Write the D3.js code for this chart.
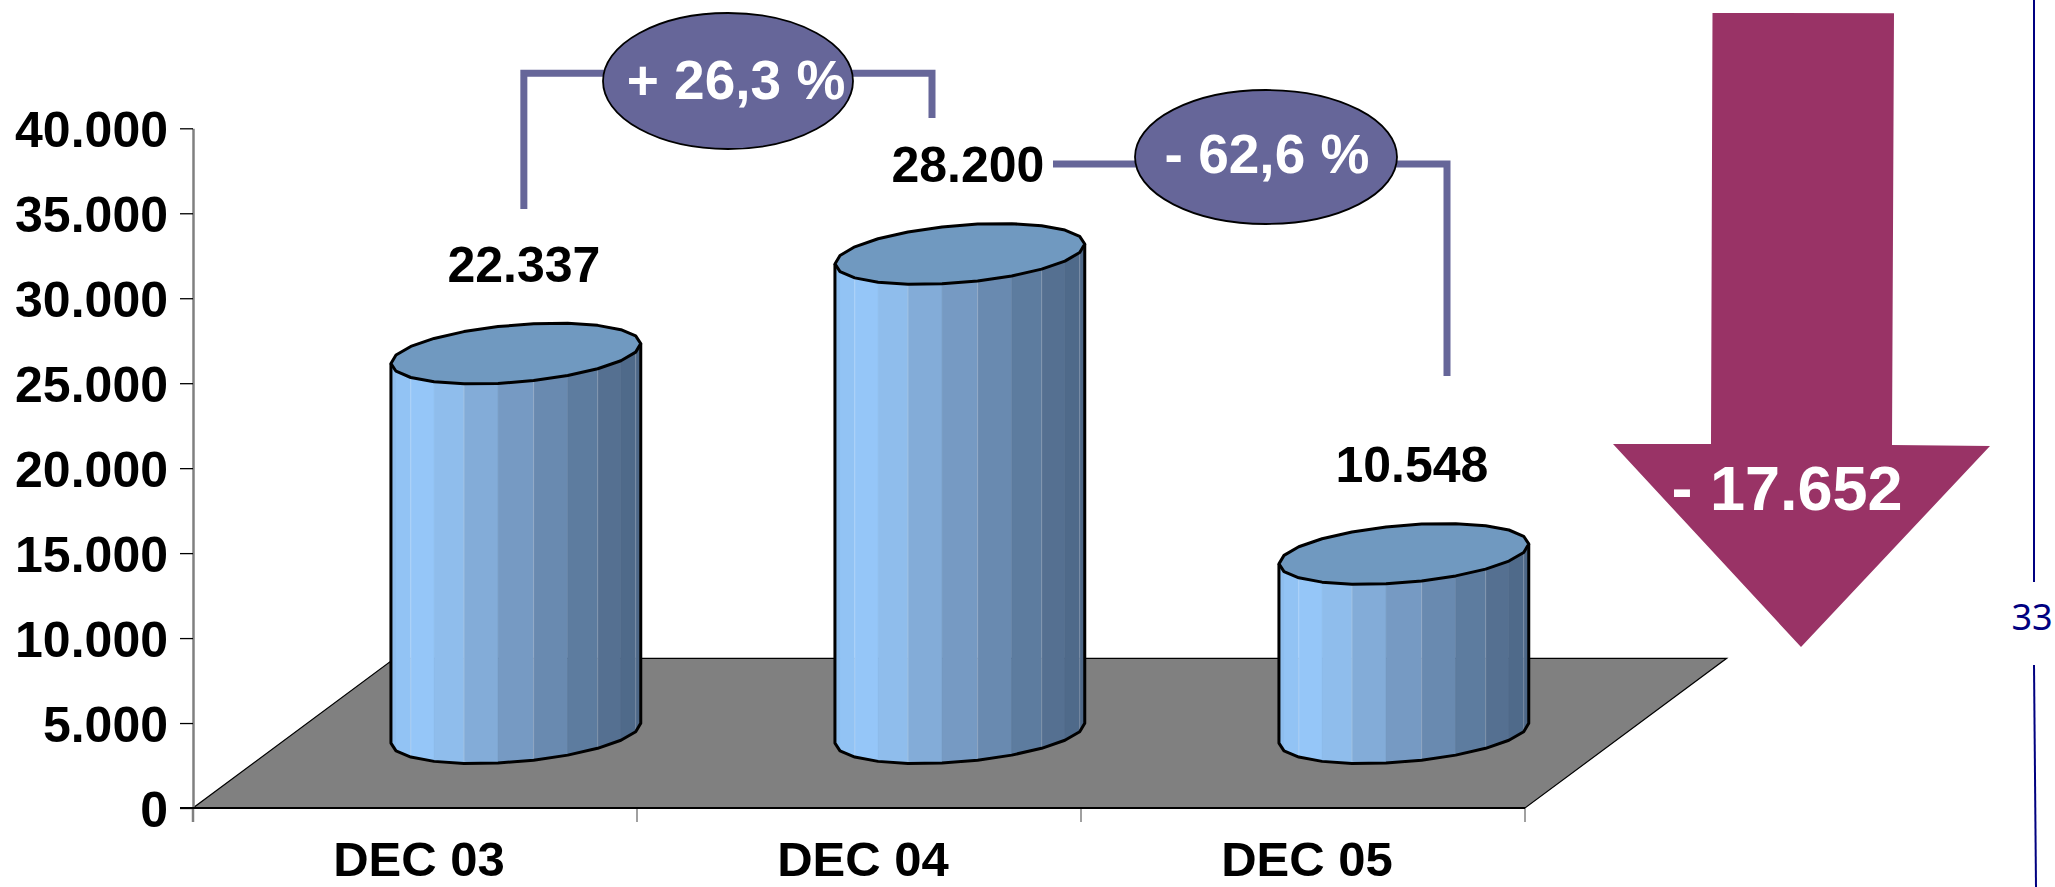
<!DOCTYPE html>
<html><head><meta charset="utf-8">
<script src="https://cdn.jsdelivr.net/npm/d3@7"></script>
<style>html,body{margin:0;padding:0;background:#fff;overflow:hidden}</style>
</head><body>
<svg id="chart" width="2055" height="887"></svg>
<script>
// ---- data ----
const categories = ["DEC 03", "DEC 04", "DEC 05"];
const values = [22337, 28200, 10548];
const yTickValues = [0, 5000, 10000, 15000, 20000, 25000, 30000, 35000, 40000];
const changeLabels = ["+ 26,3 %", "- 62,6 %"];
const totalChangeLabel = "- 17.652";
const pageNumber = "33";

// ---- setup ----
const svg = d3.select("#chart");
const FONT = "'Liberation Sans', Arial, Helvetica, sans-serif";
const loc = d3.formatLocale({decimal: ",", thousands: ".", grouping: [3], currency: ["", ""]});
const fmtInt = loc.format(",d");

const x = d3.scaleBand().domain(categories).range([193, 1525]).padding(0);
const y = d3.scaleLinear().domain([0, 40000]).range([808, 128.3]);
const depth = {x: 201.7, y: -149.7};
const x0 = x.range()[0], x1 = x.range()[1], yb = y(0);
const bw = x.bandwidth();

// ---- floor ----
svg.append("path")
  .attr("d", `M${x0},${yb}L${x1},${yb}L${x1 + depth.x},${yb + depth.y}L${x0 + depth.x},${yb + depth.y}Z`)
  .attr("fill", "#808080").attr("stroke", "#000").attr("stroke-width", 1.2);

// ---- y axis ----
const yAxis = d3.axisLeft(y).tickValues(yTickValues).tickFormat(fmtInt)
  .tickSize(13).tickSizeOuter(0).tickPadding(12);
const gy = svg.append("g").attr("transform", `translate(${x0},0)`).call(yAxis);
gy.select(".domain").attr("stroke", "#808080").attr("stroke-width", 2.5);
gy.selectAll(".tick line").attr("stroke", "#000").attr("stroke-width", 1.3);
gy.selectAll(".tick text").attr("font-family", FONT).attr("font-weight", "bold")
  .attr("font-size", 50).attr("fill", "#000").attr("dy", "0.36em");
svg.append("line").attr("x1", x0).attr("x2", x0).attr("y1", yb).attr("y2", yb + 14)
  .attr("stroke", "#808080").attr("stroke-width", 2.5);

// ---- x axis ----
const edges = categories.map(c => x(c)).concat([x1]);
svg.selectAll(".xtick").data(edges).join("line").attr("class", "xtick")
  .attr("x1", d => d).attr("x2", d => d).attr("y1", yb).attr("y2", yb + 14)
  .attr("stroke", "#808080").attr("stroke-width", 1.5);
svg.append("line").attr("x1", x0 - 13).attr("x2", x1).attr("y1", yb).attr("y2", yb)
  .attr("stroke", "#000").attr("stroke-width", 2);
svg.selectAll(".xlab").data(categories).join("text").attr("class", "xlab")
  .attr("x", d => x(d) + bw / 2 + 4).attr("y", 876)
  .attr("text-anchor", "middle").attr("font-family", FONT).attr("font-weight", "bold")
  .attr("font-size", 49).attr("fill", "#000").text(d => d);

// ---- cylinders ----
const rx = 118, rd = 51, ux = 0.803, uy = -0.596, N = 22;
const tR = Math.atan2(rd * ux, rx);
const tL = tR + Math.PI;
function ellipsePts(cx, cy) {
  const pts = [];
  for (let k = 0; k < N; k++) {
    const t = tL + 2 * Math.PI * k / N;
    pts.push([cx + rx * Math.cos(t) + rd * ux * Math.sin(t), cy + rd * uy * Math.sin(t)]);
  }
  return pts;
}
const sideColor = d3.interpolateRgbBasis(["#8DBDED", "#99CCFF", "#8DBAE8", "#82AAD6", "#7699C2", "#6A8CB2", "#5F7FA2", "#546F90", "#4C6686"]);
const line = d3.line();

values.forEach((v, i) => {
  const cx = x(categories[i]) + bw / 2 + depth.x / 2;
  const cyB = yb + depth.y / 2;
  const cyT = cyB + (y(v) - yb);
  const top = ellipsePts(cx, cyT);
  const bot = ellipsePts(cx, cyB);
  const g = svg.append("g");
  const left = top[0][0], width = top[N / 2][0] - top[0][0];
  for (let k = 0; k < N / 2; k++) {
    const quad = [top[k], top[k + 1], bot[k + 1], bot[k]];
    const mid = (top[k][0] + top[k + 1][0]) / 2;
    const f = (mid - left) / width;
    g.append("path").attr("d", line(quad) + "Z")
      .attr("fill", sideColor(f)).attr("stroke", sideColor(f)).attr("stroke-width", 0.6);
    if (k > 0 && k % 2 === 0) {
      g.append("line").attr("x1", top[k][0]).attr("x2", top[k][0])
        .attr("y1", top[k][1]).attr("y2", bot[k][1])
        .attr("stroke", "#fff").attr("stroke-opacity", 0.25).attr("stroke-width", 1);
    }
  }
  const outline = [top[0]].concat(bot.slice(0, N / 2 + 1)).concat([top[N / 2]]);
  g.append("path").attr("d", line(outline)).attr("fill", "none")
    .attr("stroke", "#000").attr("stroke-width", 3).attr("stroke-linejoin", "round");
  g.append("path").attr("d", line(top) + "Z").attr("fill", "#7099C0")
    .attr("stroke", "#000").attr("stroke-width", 3).attr("stroke-linejoin", "round");
  svg.append("text").attr("x", cx + 8).attr("y", cyT - 72)
    .attr("text-anchor", "middle").attr("font-family", FONT).attr("font-weight", "bold")
    .attr("font-size", 50).attr("fill", "#000").text(fmtInt(v));
});

// ---- change brackets ----
const bracketColor = "#666699";
const lab0x = x(categories[0]) + bw / 2 + depth.x / 2 + 8;
const topY = y(40000) - 55;
svg.append("path")
  .attr("d", `M${lab0x},209V${topY}H932V118`)
  .attr("fill", "none").attr("stroke", bracketColor).attr("stroke-width", 7).attr("stroke-linejoin", "miter");
svg.append("path")
  .attr("d", `M1053,164H1447V376`)
  .attr("fill", "none").attr("stroke", bracketColor).attr("stroke-width", 7).attr("stroke-linejoin", "miter");

const bubbles = [
  {cx: 728, cy: 81, rx: 125, ry: 68, tx: 736, ty: 99},
  {cx: 1266, cy: 157, rx: 131, ry: 67, tx: 1267, ty: 173}
];
bubbles.forEach((b, i) => {
  svg.append("ellipse").attr("cx", b.cx).attr("cy", b.cy).attr("rx", b.rx).attr("ry", b.ry)
    .attr("fill", bracketColor).attr("stroke", "#000").attr("stroke-width", 1.8);
  svg.append("text").attr("x", b.tx).attr("y", b.ty).attr("text-anchor", "middle")
    .attr("font-family", FONT).attr("font-weight", "bold").attr("font-size", 55)
    .attr("fill", "#fff").text(changeLabels[i]);
});

// ---- big arrow ----
const arrow = [[1712.5, 13], [1894, 13.3], [1892, 445], [1990, 446], [1801, 647], [1613, 444], [1711, 444]];
svg.append("path").attr("d", line(arrow) + "Z").attr("fill", "#993366");
svg.append("text").attr("x", 1787).attr("y", 510).attr("text-anchor", "middle")
  .attr("font-family", FONT).attr("font-weight", "bold").attr("font-size", 63)
  .attr("fill", "#fff").text(totalChangeLabel);

// ---- page number ----
svg.append("line").attr("x1", 2034).attr("x2", 2034).attr("y1", 0).attr("y2", 582)
  .attr("stroke", "#000080").attr("stroke-width", 2);
svg.append("line").attr("x1", 2034).attr("x2", 2036).attr("y1", 665).attr("y2", 887)
  .attr("stroke", "#000080").attr("stroke-width", 2);
svg.append("text").attr("x", 2032).attr("y", 630).attr("text-anchor", "middle")
  .attr("font-family", "'Noto Sans', 'DejaVu Sans', sans-serif").attr("font-size", 36)
  .attr("fill", "#000080").text(pageNumber);
</script>
</body></html>
